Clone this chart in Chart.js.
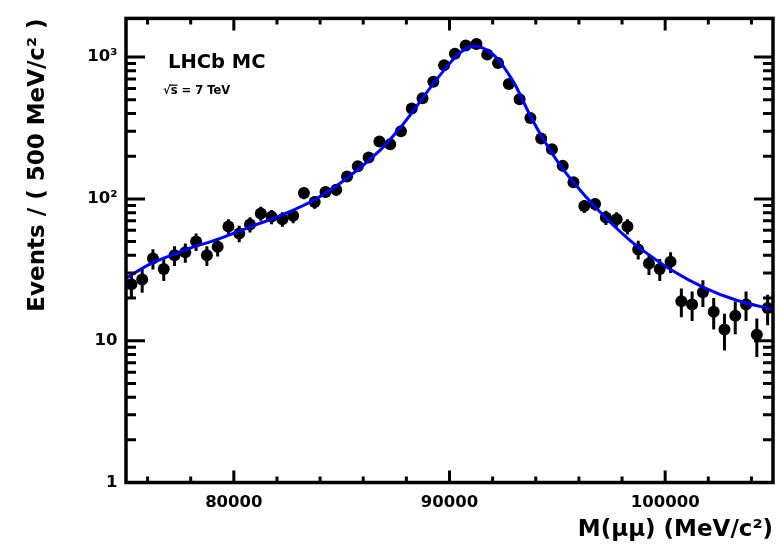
<!DOCTYPE html>
<html><head><meta charset="utf-8">
<script src="https://cdn.jsdelivr.net/npm/chart.js@4/dist/chart.umd.min.js"></script>
<style>html,body{margin:0;padding:0;background:#fff;} #wrap{width:779px;height:553px;position:relative;}</style>
</head><body><div id="wrap"><canvas id="c" width="779" height="553"></canvas></div>
<script>
// bin centres (MeV/c^2), 500 MeV bins
const binCenters = [75250, 75750, 76250, 76750, 77250, 77750, 78250, 78750, 79250, 79750,
  80250, 80750, 81250, 81750, 82250, 82750, 83250, 83750, 84250, 84750,
  85250, 85750, 86250, 86750, 87250, 87750, 88250, 88750, 89250, 89750,
  90250, 90750, 91250, 91750, 92250, 92750, 93250, 93750, 94250, 94750,
  95250, 95750, 96250, 96750, 97250, 97750, 98250, 98750, 99250, 99750,
  100250, 100750, 101250, 101750, 102250, 102750, 103250, 103750, 104250, 104750];
// events per bin
const counts = [25, 27, 38, 32, 40, 42, 50, 40, 46, 64,
  57, 66, 79, 75, 72, 76, 110, 95, 112, 116,
  144, 170, 196, 254, 243, 300, 434, 513, 670, 875,
  1056, 1206, 1239, 1044, 908, 645, 505, 372, 267, 224,
  171, 131, 89, 92, 74, 72, 64, 44, 35, 32,
  36, 19, 18, 22, 16, 12, 15, 18, 11, 17];
// fitted curve, sampled from the plot
const fitMass = [75000, 76000, 77000, 78000, 79000, 80000, 81000, 82100, 83700, 85200,
  86750, 87650, 88300, 89200, 90000, 90350, 90750, 91150, 91500, 91900, 92300, 92650, 93050,
  93800, 94450, 95200, 96000, 96750, 97500, 98250, 98750, 100250, 101800, 103350, 105000];
const fitValues = [27.5, 34.0, 39.5, 45.1, 50.4, 57.3, 65.5, 75.5, 97.8, 138,
  218, 309, 414, 635, 900, 1028, 1143, 1193, 1165, 1079, 948, 795, 635,
  372, 249, 167, 118, 88, 67.3, 52.9, 45.8, 31.8, 23.7, 19.2, 16.6];
// axis ticks
const xTickValues = [80000, 90000, 100000];
const xMinorTicks = [76000, 78000, 82000, 84000, 86000, 88000, 92000, 94000, 96000, 98000, 102000, 104000];
const yTickValues = [1, 10, 100, 1000];
const yTickLabels = ['1', '10', '10²', '10³'];
const yMinorTicks = [2,3,4,5,6,7,8,9,20,30,40,50,60,70,80,90,200,300,400,500,600,700,800,900];
const xRange = [75000, 105000];
const yRange = [1, 1875];

const FONT = "'DejaVu Sans'";

const decorPlugin = {
  id: 'decor',
  beforeDatasetsDraw(chart) {
    const {ctx, chartArea: a} = chart;
    const x = chart.scales.x, y = chart.scales.y;
    ctx.save();
    ctx.beginPath(); ctx.rect(a.left, a.top, a.right - a.left, a.bottom - a.top); ctx.clip();
    ctx.strokeStyle = '#000'; ctx.lineWidth = 3;
    binCenters.forEach((m, i) => {
      const n = counts[i], e = Math.sqrt(n);
      const px = x.getPixelForValue(m);
      ctx.beginPath();
      ctx.moveTo(px, y.getPixelForValue(n + e));
      ctx.lineTo(px, y.getPixelForValue(Math.max(n - e, 0.5)));
      ctx.stroke();
    });
    ctx.restore();
  },
  afterDraw(chart) {
    const {ctx, chartArea: a} = chart;
    const x = chart.scales.x, y = chart.scales.y;
    ctx.save();
    ctx.strokeStyle = '#000'; ctx.lineWidth = 3; ctx.lineCap = 'butt';
    const xt = (v, len) => {
      const px = x.getPixelForValue(v);
      ctx.beginPath();
      ctx.moveTo(px, a.bottom); ctx.lineTo(px, a.bottom - len);
      ctx.moveTo(px, a.top); ctx.lineTo(px, a.top + len);
      ctx.stroke();
    };
    xTickValues.forEach(v => xt(v, 12));
    xMinorTicks.forEach(v => xt(v, 6));
    const yt = (v, len) => {
      const py = y.getPixelForValue(v);
      ctx.beginPath();
      ctx.moveTo(a.left, py); ctx.lineTo(a.left + len, py);
      ctx.moveTo(a.right, py); ctx.lineTo(a.right - len, py);
      ctx.stroke();
    };
    yTickValues.forEach(v => yt(v, 19));
    yMinorTicks.forEach(v => yt(v, 10));
    ctx.lineWidth = 3.5;
    ctx.strokeRect(a.left, a.top, a.right - a.left, a.bottom - a.top);
    ctx.fillStyle = '#000';
    ctx.textAlign = 'left'; ctx.textBaseline = 'alphabetic';
    ctx.font = "bold 19.5px " + FONT;
    ctx.fillText('LHCb MC', 168, 68);
    ctx.font = "bold 11.5px " + FONT;
    ctx.fillText('√s = 7 TeV', 163, 94);
    const w0 = ctx.measureText('√').width;
    const ws = ctx.measureText('s').width;
    ctx.lineWidth = 1.2;
    ctx.beginPath(); ctx.moveTo(163 + w0 - 1, 85.2); ctx.lineTo(163 + w0 + ws, 85.2); ctx.stroke();
    ctx.restore();
  }
};

new Chart(document.getElementById('c'), {
  data: {
    datasets: [
      {
        type: 'line',
        label: 'fit',
        data: fitMass.map((m, i) => ({x: m, y: fitValues[i]})),
        borderColor: '#0000ff',
        borderWidth: 3,
        pointRadius: 0,
        tension: 0.35,
        fill: false,
        order: 0
      },
      {
        type: 'scatter',
        label: 'data',
        data: binCenters.map((m, i) => ({x: m, y: counts[i]})),
        backgroundColor: '#000',
        borderColor: '#000',
        pointRadius: 6,
        pointBorderWidth: 0,
        order: 1
      }
    ]
  },
  options: {
    responsive: false,
    animation: false,
    devicePixelRatio: 1,
    layout: {padding: {left: 0, right: 3.5, top: 12.5, bottom: 0}},
    plugins: {legend: {display: false}, tooltip: {enabled: false}},
    scales: {
      x: {
        type: 'linear', min: xRange[0], max: xRange[1],
        grid: {display: false, drawTicks: false},
        border: {display: false},
        afterBuildTicks: s => { s.ticks = xTickValues.map(v => ({value: v})); },
        afterFit: s => { s.height = 70.5; },
        ticks: {
          color: '#000', padding: 10, maxRotation: 0, autoSkip: false,
          font: {family: FONT, size: 16.5, weight: 'bold'},
          callback: v => String(v)
        },
        title: {
          display: true, text: 'M(μμ) (MeV/c²)', align: 'end', color: '#000',
          font: {family: FONT, size: 23, weight: 'bold', lineHeight: 1.2},
          padding: {top: 0, bottom: 9.6}
        }
      },
      y: {
        type: 'logarithmic', min: yRange[0], max: yRange[1],
        grid: {display: false, drawTicks: false},
        border: {display: false},
        afterBuildTicks: s => { s.ticks = yTickValues.map(v => ({value: v})); },
        afterFit: s => { s.width = 126; },
        ticks: {
          color: '#000', padding: 8.5, autoSkip: false,
          font: {family: FONT, size: 16.5, weight: 'bold'},
          callback: v => yTickLabels[yTickValues.indexOf(v)] ?? ''
        },
        title: {
          display: true, text: 'Events / ( 500 MeV/c² )', align: 'end', color: '#000',
          font: {family: FONT, size: 23, weight: 'bold', lineHeight: 1.2},
          padding: {top: 24, bottom: 0}
        }
      }
    }
  },
  plugins: [decorPlugin]
});
</script>
</body></html>
